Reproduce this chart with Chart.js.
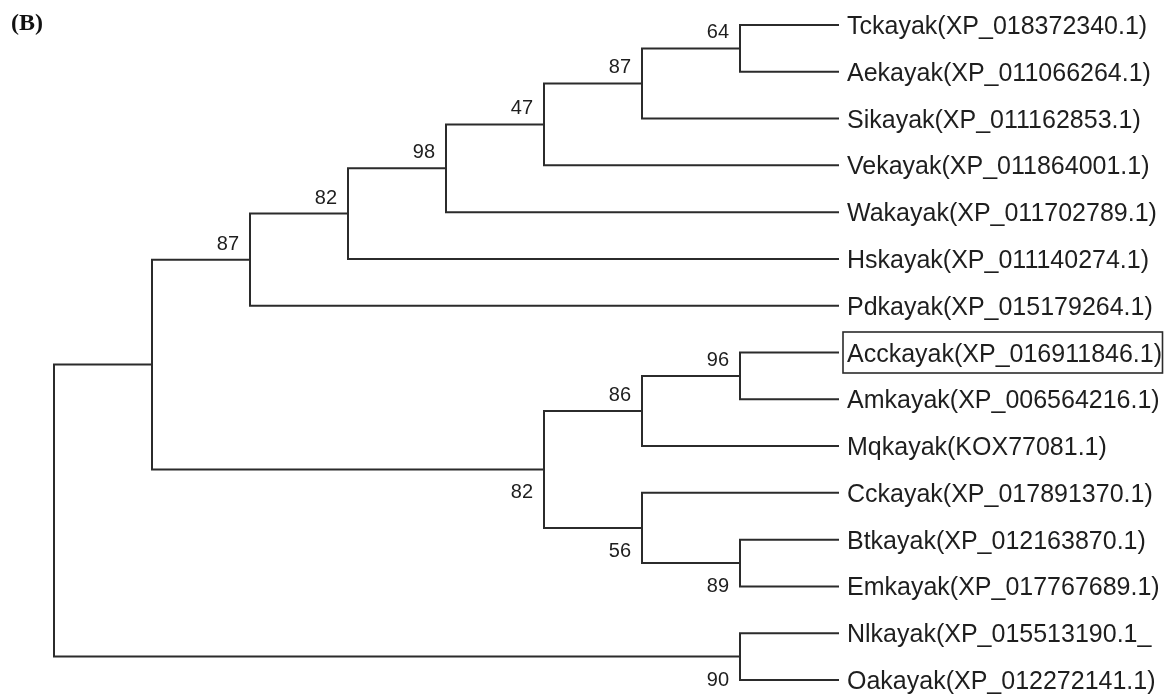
<!DOCTYPE html>
<html>
<head>
<meta charset="utf-8">
<title>kayak phylogeny</title>
<script src="https://cdn.jsdelivr.net/npm/chart.js@4/dist/chart.umd.min.js"></script>
<style>
  html, body { margin: 0; padding: 0; background: #ffffff; }
  #wrap { width: 1164px; height: 695px; }
</style>
</head>
<body>
<div id="wrap"><canvas id="tree" width="1164" height="695"></canvas></div>
<script>
// Taxa, top to bottom
const taxa = [
  'Tckayak(XP_018372340.1)',
  'Aekayak(XP_011066264.1)',
  'Sikayak(XP_011162853.1)',
  'Vekayak(XP_011864001.1)',
  'Wakayak(XP_011702789.1)',
  'Hskayak(XP_011140274.1)',
  'Pdkayak(XP_015179264.1)',
  'Acckayak(XP_016911846.1)',
  'Amkayak(XP_006564216.1)',
  'Mqkayak(KOX77081.1)',
  'Cckayak(XP_017891370.1)',
  'Btkayak(XP_012163870.1)',
  'Emkayak(XP_017767689.1)',
  'Nlkayak(XP_015513190.1_',
  'Oakayak(XP_012272141.1)'
];

// Internal nodes: id, depth (cladogram level), children (leaf index or node id), bootstrap support
const nodeIds      = ['n64', 'n87a', 'n47', 'n98', 'n82a', 'n87b', 'n96', 'n86', 'n89', 'n56', 'n82b', 'nIn', 'n90', 'root'];
const nodeDepth    = [7, 6, 5, 4, 3, 2, 7, 6, 7, 6, 5, 1, 7, 0];
const nodeChildren = [
  [0, 1], ['n64', 2], ['n87a', 3], ['n47', 4], ['n98', 5], ['n82a', 6],
  [7, 8], ['n96', 9], [11, 12], [10, 'n89'], ['n86', 'n56'],
  ['n87b', 'n82b'], [13, 14], ['nIn', 'n90']
];
const nodeSupport  = [64, 87, 47, 98, 82, 87, 96, 86, 89, 56, 82, null, 90, null];

const leafDepth = 8;
const boxedTaxon = 'Acckayak(XP_016911846.1)';
const panelLabel = '(B)';

// Resolve node coordinates in data units: x = depth, y = row (mean of children)
const nodeIndex = {};
nodeIds.forEach((id, i) => { nodeIndex[id] = i; });
function coord(ref) {
  if (typeof ref === 'number') return { x: leafDepth, y: ref };
  const i = nodeIndex[ref];
  const kids = nodeChildren[i].map(coord);
  return { x: nodeDepth[i], y: kids.reduce((s, k) => s + k.y, 0) / kids.length };
}

const lineColor = '#2b2b2b';
const datasets = nodeIds.map((id, i) => {
  const [a, b] = nodeChildren[i].map(coord);
  const n = coord(id);
  return {
    label: id,
    data: [ { x: a.x, y: a.y }, { x: n.x, y: a.y }, { x: n.x, y: b.y }, { x: b.x, y: b.y } ],
    showLine: true,
    borderColor: lineColor,
    borderWidth: 2,
    pointRadius: 0,
    tension: 0,
    borderJoinStyle: 'miter',
    borderCapStyle: 'square',
    clip: false
  };
});

// Which child slot each node occupies in its parent (0 = upper, 1 = lower)
const childSlot = {};
nodeChildren.forEach(kids => kids.forEach((k, j) => { if (typeof k === 'string') childSlot[k] = j; }));

const textPlugin = {
  id: 'treeText',
  afterDatasetsDraw(chart) {
    const ctx = chart.ctx;
    const xs = chart.scales.x, ys = chart.scales.y;
    ctx.save();
    ctx.fillStyle = '#1e1e1e';

    // tip labels
    ctx.font = '25px "Liberation Sans", Arial, sans-serif';
    ctx.textAlign = 'left';
    ctx.textBaseline = 'alphabetic';
    const tipX = xs.getPixelForValue(leafDepth) + 9;
    taxa.forEach((name, i) => {
      const py = ys.getPixelForValue(i);
      ctx.fillText(name, tipX, py + 9);
      if (name === boxedTaxon) {
        const w = ctx.measureText(name).width;
        const right = Math.min(tipX + w + 4, chart.width - 1.5);
        ctx.strokeStyle = lineColor;
        ctx.lineWidth = 1.6;
        ctx.strokeRect(tipX - 4, py - 20.5, right - (tipX - 4), 41);
      }
    });

    // bootstrap values
    ctx.font = '20px "Liberation Sans", Arial, sans-serif';
    ctx.textAlign = 'right';
    nodeIds.forEach((id, i) => {
      if (nodeSupport[i] == null) return;
      const n = coord(id);
      const px = xs.getPixelForValue(n.x) - 11;
      const py = ys.getPixelForValue(n.y);
      const below = childSlot[id] === 1;
      ctx.fillText(String(nodeSupport[i]), px, below ? py + 29 : py - 10);
    });

    // panel letter
    ctx.font = 'bold 24px "Liberation Serif", "Times New Roman", serif';
    ctx.textAlign = 'left';
    ctx.fillStyle = '#111111';
    ctx.fillText(panelLabel, 11, 30);
    ctx.restore();
  }
};

new Chart(document.getElementById('tree'), {
  type: 'scatter',
  data: { datasets },
  options: {
    responsive: false,
    animation: false,
    devicePixelRatio: 1,
    layout: { padding: { left: 54, right: 326, top: 25, bottom: 15 } },
    plugins: { legend: { display: false }, tooltip: { enabled: false } },
    scales: {
      x: { type: 'linear', min: 0, max: leafDepth, display: false },
      y: { type: 'linear', min: 0, max: taxa.length - 1, reverse: true, display: false }
    }
  },
  plugins: [textPlugin]
});
</script>
</body>
</html>
